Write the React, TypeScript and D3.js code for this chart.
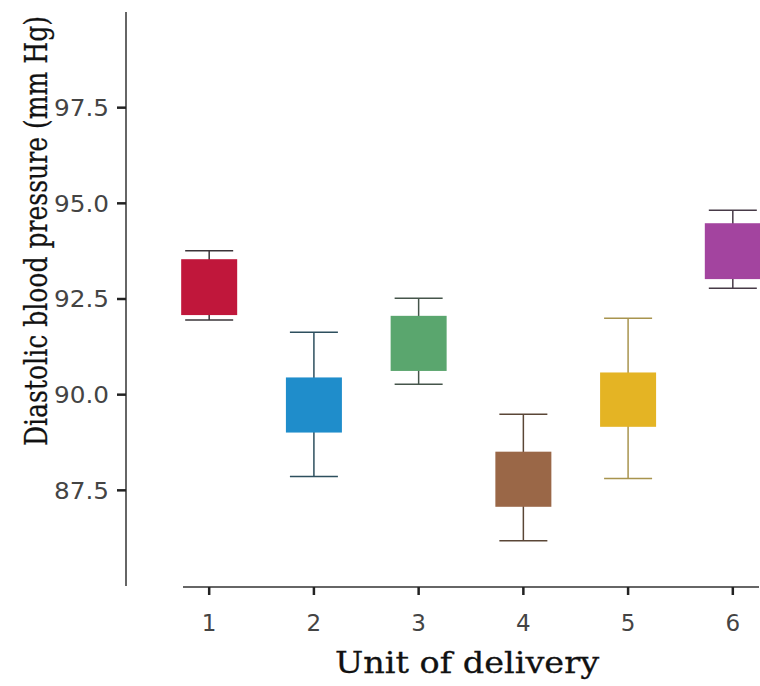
import React, { useLayoutEffect, useRef, useState } from "react";
import * as d3 from "d3";

const units = [1, 2, 3, 4, 5, 6];
const whiskerLow = [91.95, 87.86, 90.27, 86.18, 87.81, 92.78];
const q1 = [92.08, 89.01, 90.62, 87.07, 89.16, 93.02];
const q3 = [93.54, 90.45, 92.06, 88.51, 90.58, 94.48];
const whiskerHigh = [93.76, 91.63, 92.52, 89.49, 92.0, 94.82];
const fills = ["#c0173b", "#1f8dcb", "#5aa66e", "#9a6747", "#e4b424", "#a3449f"];
const strokes = ["#3a3438", "#2d4f5e", "#45554a", "#5a4636", "#a8944e", "#473a47"];
const yTicks = [87.5, 90.0, 92.5, 95.0, 97.5];
const yLabel = "Diastolic blood pressure (mm Hg)";
const xLabel = "Unit of delivery";

export default function App() {
  const W = 760, H = 686;
  const x = d3.scaleLinear().domain([0.75, 6.25]).range([183, 759]);
  const y = d3.scaleLinear().domain([85, 100]).range([586, 12]);
  const axisX = 126;
  const axisY = 587;
  const boxW = 56;
  const capW = 48;
  const tickFont = "'DejaVu Sans', sans-serif";
  const serif = "'DejaVu Serif', serif";
  const yTitleRef = useRef<SVGTextElement>(null);
  const xTitleRef = useRef<SVGTextElement>(null);
  const [ys, setYs] = useState(0.8);
  const [xs, setXs] = useState(1.1);
  useLayoutEffect(() => {
    if (yTitleRef.current) {
      const l = yTitleRef.current.getComputedTextLength();
      if (l > 0) setYs(430 / l);
    }
    if (xTitleRef.current) {
      const l = xTitleRef.current.getComputedTextLength();
      if (l > 0) setXs(264 / l);
    }
  }, []);
  return (
    <svg width={W} height={H} style={{ position: "absolute", left: 0, top: 0, background: "#fff" }}>
      {/* y axis */}
      <line x1={axisX} x2={axisX} y1={y(100)} y2={y(85)} stroke="#333" strokeWidth={1.5} />
      {yTicks.map((t) => (
        <g key={t}>
          <line x1={axisX - 9} x2={axisX} y1={y(t)} y2={y(t)} stroke="#222" strokeWidth={2.5} />
          <text x={axisX - 17} y={y(t)} dy="0.36em" textAnchor="end" fontFamily={tickFont} fontSize={23}
            textLength={55} lengthAdjust="spacingAndGlyphs" fill="#444">
            {t.toFixed(1)}
          </text>
        </g>
      ))}
      {/* x axis */}
      <line x1={x(0.75)} x2={x(6.25)} y1={axisY} y2={axisY} stroke="#333" strokeWidth={1.5} />
      {units.map((u) => (
        <g key={u}>
          <line x1={x(u)} x2={x(u)} y1={axisY} y2={axisY + 8} stroke="#222" strokeWidth={2.5} />
          <text x={x(u)} y={631} textAnchor="middle" fontFamily={tickFont} fontSize={23} fill="#444">
            {u}
          </text>
        </g>
      ))}
      {/* boxes */}
      {units.map((u, i) => (
        <g key={"b" + u}>
          <line x1={x(u)} x2={x(u)} y1={y(whiskerHigh[i])} y2={y(whiskerLow[i])} stroke={strokes[i]} strokeWidth={1.5} />
          <line x1={x(u) - capW / 2} x2={x(u) + capW / 2} y1={y(whiskerHigh[i])} y2={y(whiskerHigh[i])} stroke={strokes[i]} strokeWidth={1.5} />
          <line x1={x(u) - capW / 2} x2={x(u) + capW / 2} y1={y(whiskerLow[i])} y2={y(whiskerLow[i])} stroke={strokes[i]} strokeWidth={1.5} />
          <rect x={x(u) - boxW / 2} y={y(q3[i])} width={boxW} height={y(q1[i]) - y(q3[i])} fill={fills[i]} />
        </g>
      ))}
      {/* titles */}
      <g transform={`translate(335, 673) scale(${xs}, 1)`}>
        <text ref={xTitleRef} x={0} y={0} fontFamily={serif} fontSize={30}
          fill="#111" stroke="#111" strokeWidth={0.3}>
          {xLabel}
        </text>
      </g>
      <g transform={`translate(47, 446) rotate(-90) scale(${ys}, 1)`}>
        <text ref={yTitleRef} x={0} y={0} fontFamily={serif} fontSize={31}
          fill="#111" stroke="#111" strokeWidth={0.3}>
          {yLabel}
        </text>
      </g>
    </svg>
  );
}
